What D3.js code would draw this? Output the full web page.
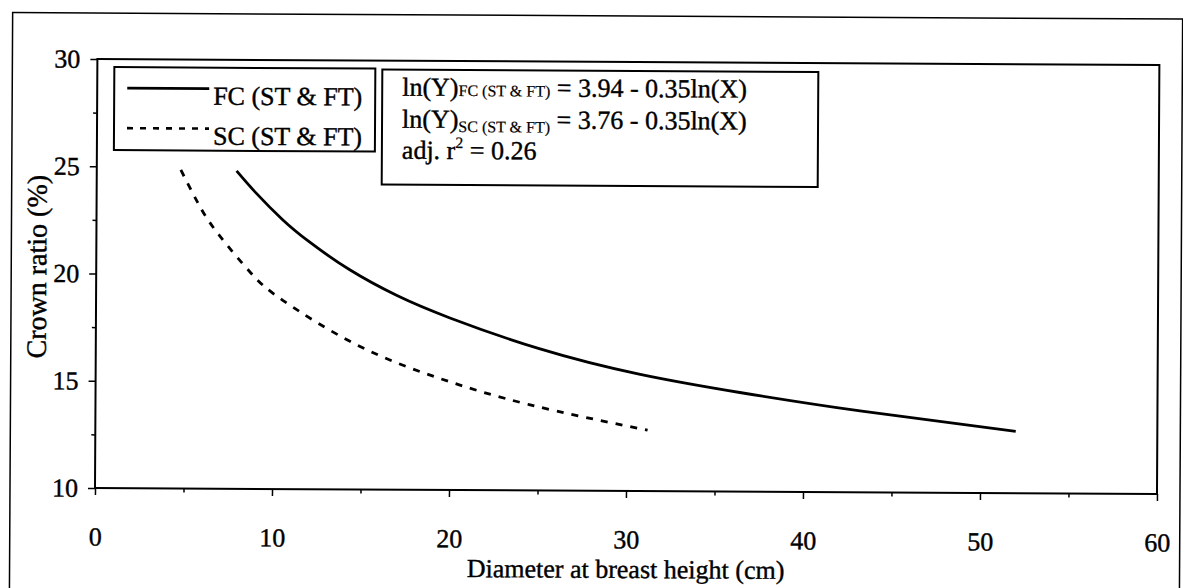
<!DOCTYPE html>
<html><head><meta charset="utf-8">
<script src="https://cdn.jsdelivr.net/npm/d3@7"></script>
<style>
body{margin:0;background:#fff;}
svg text{font-family:"Liberation Serif","Times New Roman",serif;fill:#000;}
</style>
</head><body>
<svg id="c" width="1183" height="588"></svg>
<script>
// Data
const fcDbh   = [7.9, 9.0, 10.5, 12.0, 14.3, 17.0, 20.0, 25.1, 30.7, 36.4, 43.3, 52.0];
const fcCrown = [24.82, 23.8, 22.57, 21.55, 20.25, 19.05, 18.02, 16.6, 15.45, 14.62, 13.78, 12.88];
const scDbh   = [4.75, 5.7, 6.8, 8.7, 10.55, 14.7, 19.4, 24.5, 31.2];
const scCrown = [24.85, 23.35, 21.96, 20.1, 18.8, 16.76, 15.21, 14.0, 12.84];
const xTicks = [0, 10, 20, 30, 40, 50, 60];
const xMinor = [5, 15, 25, 35, 45, 55];
const yTicks = [10, 15, 20, 25, 30];
const yMinor = [12.5, 17.5, 22.5, 27.5];
const legendLabels = ["FC (ST & FT)", "SC (ST & FT)"];
const xTitle = "Diameter at breast height (cm)";
const yTitle = "Crown ratio (%)";

const FONT = "'Liberation Serif', 'Times New Roman', serif";
const svg = d3.select("#c");
const L = 95, R = 1157, T = 59, B = 488;
const root = svg.append("g").attr("transform", `rotate(0.32, ${L}, ${B})`)
  .attr("font-family", FONT);

// outer border
root.append("rect").attr("x", 10).attr("y", 13).attr("width", 1170).attr("height", 620)
  .attr("fill", "none").attr("stroke", "#000").attr("stroke-width", 1.5);

const x = d3.scaleLinear().domain([0, 60]).range([L, R]);
const y = d3.scaleLinear().domain([10, 30]).range([B, T]);

// plot frame
root.append("rect").attr("x", L).attr("y", T).attr("width", R - L).attr("height", B - T)
  .attr("fill", "none").attr("stroke", "#000").attr("stroke-width", 2);

// x axis
const xa = root.append("g").attr("transform", `translate(0,${B})`)
  .call(d3.axisBottom(x).tickValues(xTicks).tickSize(7).tickPadding(32).tickFormat(d3.format("d")));
const xm = root.append("g").attr("transform", `translate(0,${B})`)
  .call(d3.axisBottom(x).tickValues(xMinor).tickSize(4).tickFormat(""));
// y axis
const ya = root.append("g").attr("transform", `translate(${L},0)`)
  .call(d3.axisLeft(y).tickValues(yTicks).tickSize(7).tickPadding(10).tickFormat(d3.format("d")));
const ym = root.append("g").attr("transform", `translate(${L},0)`)
  .call(d3.axisLeft(y).tickValues(yMinor).tickSize(4).tickFormat(""));
[xa, xm, ya, ym].forEach(g => {
  g.attr("font-family", FONT).attr("font-size", 26);
  g.select(".domain").remove();
  g.selectAll(".tick line").attr("stroke", "#000").attr("stroke-width", 1.5);
  g.selectAll("text").attr("font-family", FONT).style("font-size", "26px")
    .attr("fill", "#000").attr("stroke", "#000").attr("stroke-width", 0.4);
});

const T26 = sel => sel.attr("font-family", FONT).attr("stroke", "#000").attr("stroke-width", 0.4);

// axis titles
T26(root.append("text").attr("x", (L + R) / 2).attr("y", 575).attr("text-anchor", "middle")
  .style("font-size", "26px").text(xTitle));
T26(root.append("text").attr("transform", `translate(45,${267}) rotate(-90)`).attr("text-anchor", "middle")
  .style("font-size", "28px").text(yTitle));

// curves
const line = d3.line().x(d => x(d[0])).y(d => y(d[1])).curve(d3.curveNatural);
root.append("path").datum(fcDbh.map((d, i) => [d, fcCrown[i]])).attr("d", line)
  .attr("fill", "none").attr("stroke", "#000").attr("stroke-width", 2.8);
root.append("path").datum(scDbh.map((d, i) => [d, scCrown[i]])).attr("d", line)
  .attr("fill", "none").attr("stroke", "#000").attr("stroke-width", 2.8).attr("stroke-dasharray", "7,8");

// legend
root.append("rect").attr("x", 112).attr("y", 67).attr("width", 261).attr("height", 83)
  .attr("fill", "#fff").attr("stroke", "#000").attr("stroke-width", 2);
const legY = [88, 128];
legendLabels.forEach((lab, i) => {
  root.append("line").attr("x1", 125).attr("x2", 207).attr("y1", legY[i]).attr("y2", legY[i])
    .attr("stroke", "#000").attr("stroke-width", 2.6).attr("stroke-dasharray", i ? "6,7" : null);
  T26(root.append("text").attr("x", 211).attr("y", legY[i] + 16).style("font-size", "26px").text(lab));
});

// equation box
root.append("rect").attr("x", 380).attr("y", 68).attr("width", 436).attr("height", 115)
  .attr("fill", "#fff").attr("stroke", "#000").attr("stroke-width", 2);
const eq1 = T26(root.append("text").attr("x", 400).attr("y", 94).style("font-size", "26px"));
eq1.append("tspan").text("ln(Y)");
eq1.append("tspan").style("font-size", "16px").attr("stroke-width", 0.2).text("FC (ST & FT)");
eq1.append("tspan").text(" = 3.94 - 0.35ln(X)");
const eq2 = T26(root.append("text").attr("x", 400).attr("y", 126).style("font-size", "26px"));
eq2.append("tspan").text("ln(Y)");
eq2.append("tspan").style("font-size", "16px").attr("stroke-width", 0.2).attr("dy", 4).text("SC (ST & FT)");
eq2.append("tspan").attr("dy", -4).text(" = 3.76 - 0.35ln(X)");
const eq3 = T26(root.append("text").attr("x", 400).attr("y", 157).style("font-size", "26px"));
eq3.append("tspan").text("adj. r");
eq3.append("tspan").style("font-size", "16px").attr("stroke-width", 0.2).attr("dy", -11).text("2");
eq3.append("tspan").attr("dy", 11).text(" = 0.26");
</script>
</body></html>
